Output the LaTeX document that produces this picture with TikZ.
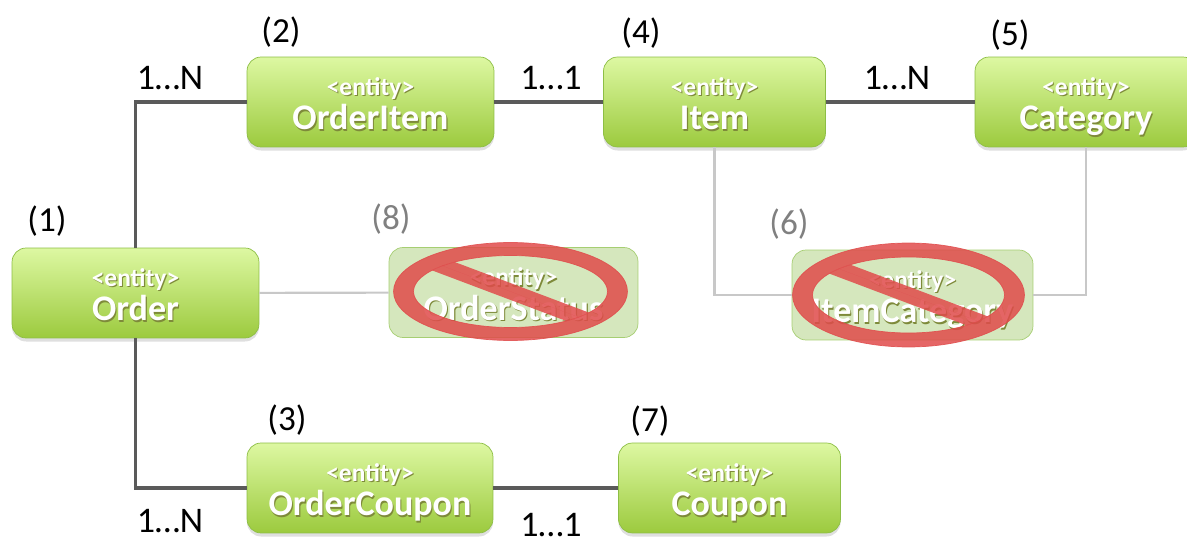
\documentclass[tikz,border=0pt]{standalone}
\usepackage{fontspec}
\setmainfont{Carlito}
\usepackage{xcolor}
\usepackage{tikz}
\usetikzlibrary{calc,shadows}

\definecolor{entTop}{HTML}{DDF8A2}
\definecolor{entBottom}{HTML}{9CCA3E}
\definecolor{entBorder}{HTML}{8DBE45}
\definecolor{entGlow}{HTML}{7E8A3A}
\definecolor{dropFill}{HTML}{D5E7BD}
\definecolor{dropBorder}{HTML}{A6CE72}
\definecolor{linkDark}{HTML}{5A5A5A}
\definecolor{linkLight}{HTML}{C8C8C8}
\definecolor{numGray}{HTML}{808080}
\definecolor{signRed}{HTML}{E04B4B}

\newcommand\glowtext[1]{\rlap{\kern0.6pt\raisebox{-0.8pt}{\color{entGlow}#1}}{\color{white}#1}}
\newcommand\enttext[1]{{\renewcommand\arraystretch{0}%
    \begin{tabular}{@{}c@{}}
      \fontsize{14.5}{14.5}\selectfont\bfseries\glowtext{<entity>}\rule[-2pt]{0pt}{22pt}\\
      \fontsize{20.5}{20.5}\selectfont\bfseries\glowtext{#1}\rule[-8pt]{0pt}{24.4pt}
    \end{tabular}}}

\begin{document}
\begin{tikzpicture}[x=0.02cm, y=-0.02cm,
      entity/.style={rectangle, rounded corners=8pt, draw=entBorder, top color=entTop,
        bottom color=entBottom, minimum height=1.8cm, inner sep=0pt,
        drop shadow={shadow xshift=0pt, shadow yshift=-2pt, opacity=0.25}},
      dropped/.style={rectangle, rounded corners=8pt, draw=dropBorder, fill=dropFill,
        minimum height=1.8cm, inner sep=0pt},
      link/.style={draw=linkDark, line width=1.8pt},
      oldlink/.style={draw=linkLight, line width=1.2pt},
      mult/.style={font=\fontsize{20.5}{24}\selectfont, inner sep=0pt},
      num/.style={font=\fontsize{20}{24}\selectfont, inner sep=0pt},
      numgone/.style={num, text=numGray},
      nosign/.style={fill=signRed, draw=signRed, opacity=0.85}]
      \useasboundingbox (0,0) rectangle (1187,537);
      % entities
      \node[entity, minimum width=4.94cm] (order) at (135.5,293) {\enttext{Order}};
      \node[entity, minimum width=4.94cm] (orderitem) at (370.5,102) {\enttext{OrderItem}};
      \node[entity, minimum width=4.92cm] (ordercoupon) at (370,488) {\enttext{OrderCoupon}};
      \node[entity, minimum width=4.44cm] (item) at (714.5,102) {\enttext{Item}};
      \node[entity, minimum width=4.44cm] (category) at (1086,102) {\enttext{Category}};
      \node[entity, minimum width=4.44cm] (coupon) at (729.5,488) {\enttext{Coupon}};
      \node[dropped, minimum width=4.98cm] (orderstatus) at (513.5,292.5) {\enttext{OrderStatus}};
      \node[dropped, minimum width=4.82cm] (itemcategory) at (912.5,295) {\enttext{ItemCategory}};
      % relations
      \draw[link] (order) |- (orderitem);
      \draw[link] (orderitem) -- (item);
      \draw[link] (item) -- (category);
      \draw[link] (order) |- (ordercoupon);
      \draw[link] (ordercoupon) -- (coupon);
      \draw[oldlink] (order) -- (orderstatus);
      \draw[oldlink] (item) |- (itemcategory);
      \draw[oldlink] (itemcategory) -| (category);
      % dropped tables
      \coordinate (stop1) at ($(orderstatus)+(-3,-1)$);
      \coordinate (stop2) at ($(itemcategory)+(-4,0)$);
      \fill[nosign, even odd rule] (stop1) ellipse [x radius=2.34cm, y radius=0.98cm]
        (stop1) ellipse [x radius=1.94cm, y radius=0.72cm];
      \begin{scope}
        \clip (stop1) ellipse [x radius=1.94cm, y radius=0.72cm];
        \draw[nosign, line width=9pt] ($(stop1)+(-130,-49)$) -- ($(stop1)+(130,49)$);
      \end{scope}
      \fill[nosign, even odd rule] (stop2) ellipse [x radius=2.32cm, y radius=1.04cm]
        (stop2) ellipse [x radius=1.92cm, y radius=0.76cm];
      \begin{scope}
        \clip (stop2) ellipse [x radius=1.92cm, y radius=0.76cm];
        \draw[nosign, line width=9pt] ($(stop2)+(-130,-49)$) -- ($(stop2)+(130,49)$);
      \end{scope}
      % multiplicities
      \node[mult] (m1) at (170,78) {1…N};
      \node[mult] (m2) at (551,78) {1…1};
      \node[mult] (m3) at (897,78) {1…N};
      \node[mult] (m4) at (170,521) {1…N};
      \node[mult] (m5) at (551,525) {1…1};
      % numbers
      \node[num] (n1) at (47,221) {(1)};
      \node[num] (n2) at (281,32) {(2)};
      \node[num] (n3) at (287,420) {(3)};
      \node[num] (n4) at (641,33) {(4)};
      \node[num] (n5) at (1010,35) {(5)};
      \node[numgone] (n6) at (789,224) {(6)};
      \node[num] (n7) at (650,421) {(7)};
      \node[numgone] (n8) at (391,219) {(8)};
    \end{tikzpicture}
\end{document}
